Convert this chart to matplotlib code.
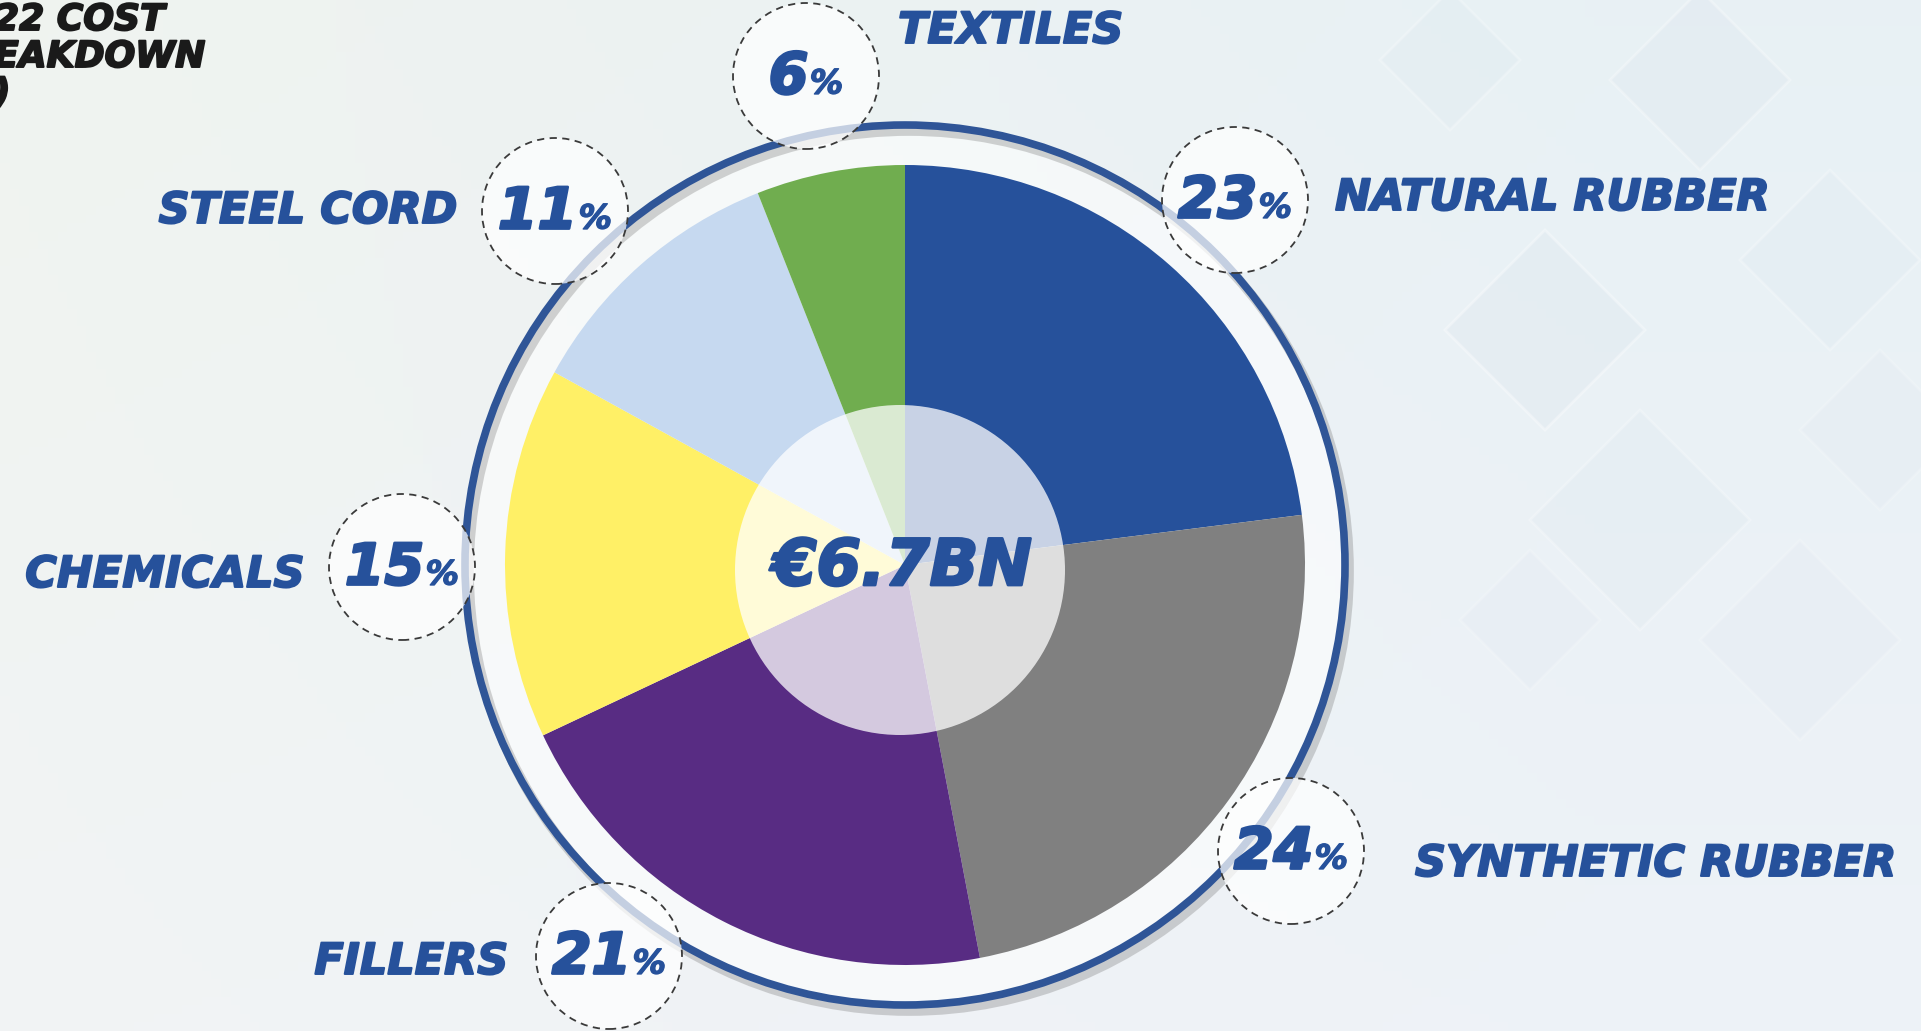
import numpy as np
import matplotlib.pyplot as plt
import matplotlib.patheffects as pe
from matplotlib.patches import Circle, Polygon
from matplotlib.offsetbox import TextArea, HPacker, AnnotationBbox

W, H = 1921, 1031

# raw material cost shares (%)
materials = ['NATURAL RUBBER', 'SYNTHETIC RUBBER', 'FILLERS', 'CHEMICALS', 'STEEL CORD', 'TEXTILES']
shares = [23, 24, 21, 15, 11, 6]
colors = ['#26519B', '#808080', '#582C83', '#FFF066', '#C6D9F0', '#70AD4F']
total_label = '€6.7BN'
title_lines = ['22 COST', 'EAKDOWN', ')']

# badge centre, name anchor, name alignment (pixel coords, y from top)
badges = {
    'NATURAL RUBBER': ((1235, 200), (1335, 198), 'left'),
    'SYNTHETIC RUBBER': ((1291, 851), (1415, 864), 'left'),
    'FILLERS': ((609, 956), (508, 962), 'right'),
    'CHEMICALS': ((402, 567), (304, 575), 'right'),
    'STEEL CORD': ((555, 211), (457, 211), 'right'),
    'TEXTILES': ((806, 76), (898, 31), 'left'),
}

BLUE = '#26519B'
font = dict(family='DejaVu Sans', weight='bold', style='italic')


def heavy(color, w=1.4):
    return [pe.withStroke(linewidth=w, foreground=color)]


def fy(y):
    return H - y


fig = plt.figure(figsize=(W / 100, H / 100), dpi=100)
ax = fig.add_axes([0, 0, 1, 1])

# soft background gradient
xx, yy = np.meshgrid(np.linspace(0, 1, 200), np.linspace(0, 1, 120))
c_left = np.array([0.94, 0.955, 0.94])
c_right = np.array([0.91, 0.945, 0.96])
c_low = np.array([0.955, 0.955, 0.98])
t = np.clip(xx * 1.2, 0, 1)[..., None]
bg = c_left * (1 - t) + c_right * t
bg = bg * (1 - 0.5 * yy[..., None]) + c_low * 0.5 * yy[..., None]
ax.imshow(bg, extent=[0, W, 0, H], origin='upper', aspect='auto', zorder=0)

# faint diamond tiles
for cx, cy, s, a in [(1545, 330, 100, 0.35), (1700, 80, 90, 0.3), (1830, 260, 90, 0.25),
                     (1640, 520, 110, 0.25), (1800, 640, 100, 0.2), (1450, 60, 70, 0.25),
                     (1880, 430, 80, 0.2), (1530, 620, 70, 0.2)]:
    ax.add_patch(Polygon([(cx - s, fy(cy)), (cx, fy(cy - s)), (cx + s, fy(cy)), (cx, fy(cy + s))],
                         closed=True, fc='#DCE6EE', ec='white', lw=2, alpha=a, zorder=1))

pc = (905, fy(565))
ring_r = 440

# ring band, shadow and outline
ax.add_patch(Circle(pc, ring_r, fc='white', alpha=0.55, lw=0, zorder=2))
ax.add_patch(Circle((pc[0] + 4, pc[1] - 6), ring_r, fill=False, ec='#555555', lw=7, alpha=0.25, zorder=2))
ax.add_patch(Circle(pc, ring_r, fill=False, ec='#2F5597', lw=5.5, zorder=3))

wedges, _ = ax.pie(shares, colors=colors, startangle=90, counterclock=False,
                   center=pc, radius=400, wedgeprops=dict(linewidth=0))
for w in wedges:
    w.set_zorder(4)

# translucent centre
ax.add_patch(Circle((900, fy(570)), 165, fc='white', alpha=0.75, lw=0, zorder=5))
ax.text(902, fy(567), total_label, ha='center', va='center', fontsize=46, color=BLUE,
        zorder=6, path_effects=heavy(BLUE, 2), **font)

for name, val in zip(materials, shares):
    (bx, by), (nx, ny), ha = badges[name]
    ax.add_patch(Circle((bx, fy(by)), 73, fc='white', alpha=0.72, ec='none', zorder=6))
    ax.add_patch(Circle((bx, fy(by)), 73, fill=False, ec='#3a3a3a', lw=1.3,
                        ls=(0, (4, 3)), zorder=7))
    num = TextArea(str(val), textprops=dict(fontsize=41, color=BLUE,
                                            path_effects=heavy(BLUE, 2), **font))
    pct = TextArea('%', textprops=dict(fontsize=24, color=BLUE,
                                       path_effects=heavy(BLUE, 1), **font))
    box = HPacker(children=[num, pct], align='baseline', pad=0, sep=1)
    ab = AnnotationBbox(box, (bx, fy(by) - 2), frameon=False, box_alignment=(0.5, 0.5), zorder=8)
    ax.add_artist(ab)
    ax.text(nx, fy(ny), name, ha=ha, va='center', fontsize=31, color=BLUE, zorder=8,
            path_effects=heavy(BLUE), **font)

# page title (runs off the left edge)
for i, line in enumerate(title_lines):
    ax.text(-6, fy(20 + i * 37), line, ha='left', va='center', fontsize=26, color='#1a1a1a',
            path_effects=heavy('#1a1a1a'), **font)

ax.set_xlim(0, W)
ax.set_ylim(0, H)
ax.set_aspect('auto')
ax.axis('off')

fig.savefig('out.png', dpi=100)
